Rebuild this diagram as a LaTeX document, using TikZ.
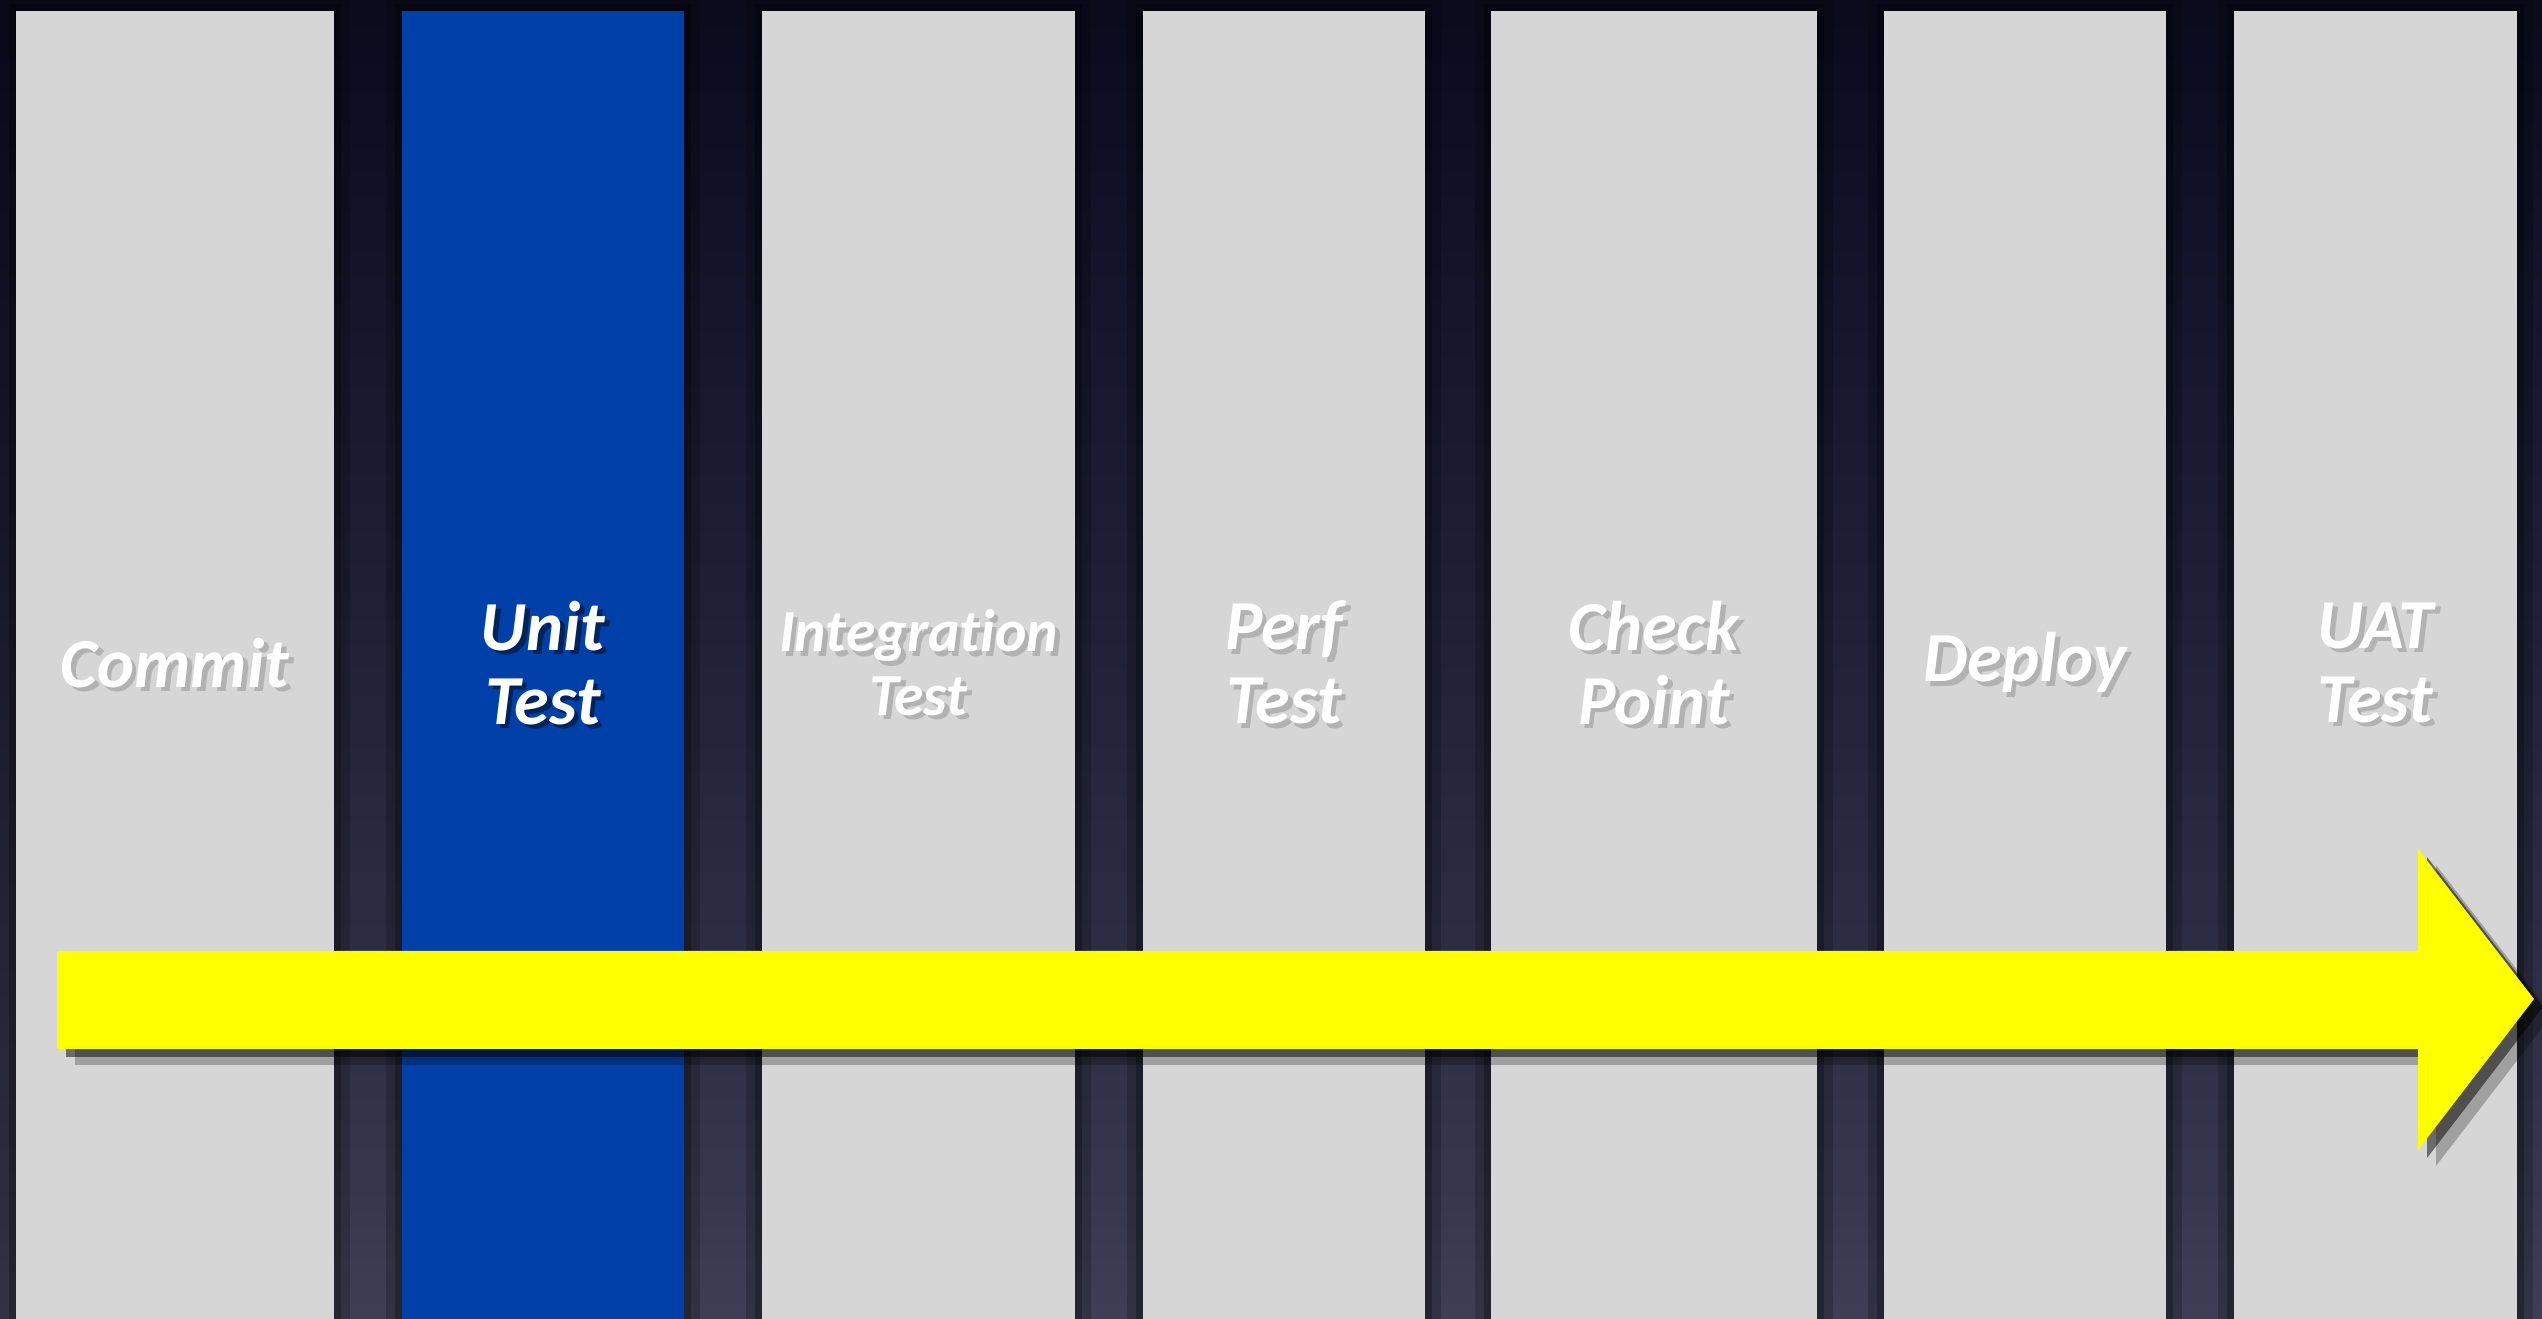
\documentclass[tikz,border=0pt]{standalone}
\usepackage{fontspec}
\setmainfont{Carlito}[Ligatures=NoCommon]
\usetikzlibrary{shadows}

\definecolor{stagegray}{HTML}{D6D6D6}
\definecolor{stageblue}{HTML}{0040A8}
\definecolor{flowyellow}{HTML}{FFFF00}
\definecolor{bgtop}{HTML}{020208}
\definecolor{bgnavy}{HTML}{0D0D22}
\definecolor{bgmid}{HTML}{1F1F36}
\definecolor{bglow}{HTML}{36364C}
\definecolor{bgbot}{HTML}{5C5A70}

\pgfdeclareverticalshading{stageback}{100bp}{%
  color(0bp)=(bgbot); color(12bp)=(bgbot!85!bglow); color(30bp)=(bglow);
  color(52bp)=(bgmid); color(72bp)=(bgnavy); color(86bp)=(bgtop); color(100bp)=(bgtop)}

% label with a soft offset shadow behind it
\newcommand{\shlbl}[1]{\makebox[0pt][l]{\kern1.3pt\raisebox{-1.3pt}{\color{lblshade}#1}}#1}

\begin{document}
\begin{tikzpicture}[
    stage/.style={minimum height=13.08cm, inner sep=0pt, align=center,
      text=white, font=\fontsize{20}{21}\selectfont\bfseries\itshape,
      preaction={draw=black, draw opacity=0.18, line width=9pt},
      preaction={draw=black, draw opacity=0.25, line width=4pt}},
    plain/.style={stage, fill=stagegray, execute at begin node={\colorlet{lblshade}{black!30}}},
    current/.style={stage, fill=stageblue, execute at begin node={\colorlet{lblshade}{stageblue!55!black}}},
    flow/.style={fill=flowyellow,
      drop shadow={shadow xshift=0.18cm, shadow yshift=-0.16cm, fill=black, opacity=0.25},
      drop shadow={shadow xshift=0.09cm, shadow yshift=-0.08cm, fill=black, opacity=0.5}},
  ]
    \useasboundingbox (0,0) rectangle (25.42,13.19);
    \shade[shading=stageback] (0,0) rectangle (25.42,13.19);

    \begin{scope}
    \clip (0,0) rectangle (25.42,13.19);
    \node[plain, minimum width=3.18cm] (commit) at (1.75,6.54) {\shlbl{Commit}};
    \node[current, minimum width=2.82cm] (unit) at (5.43,6.54) {\shlbl{Unit}\\\shlbl{Test}};
    \node[plain, minimum width=3.13cm, font=\fontsize{17}{18}\selectfont\bfseries\itshape] (integ) at (9.185,6.54) {\shlbl{Integration}\\\shlbl{Test}};
    \node[plain, minimum width=2.82cm] (perf) at (12.84,6.54) {\shlbl{Perf}\\\shlbl{Test}};
    \node[plain, minimum width=3.26cm] (check) at (16.54,6.54) {\shlbl{Check}\\\shlbl{Point}};
    \node[plain, minimum width=2.82cm] (deploy) at (20.25,6.54) {\shlbl{Deploy}};
    \node[plain, minimum width=2.83cm] (uat) at (23.755,6.54) {\shlbl{UAT}\\\shlbl{Test}};

    % pipeline direction
    \fill[flow] (0.57,2.70) -- (24.18,2.70) -- (24.18,1.69) -- (25.34,3.20)
      -- (24.18,4.70) -- (24.18,3.68) -- (0.57,3.68) -- cycle;
    \end{scope}
  \end{tikzpicture}
\end{document}
